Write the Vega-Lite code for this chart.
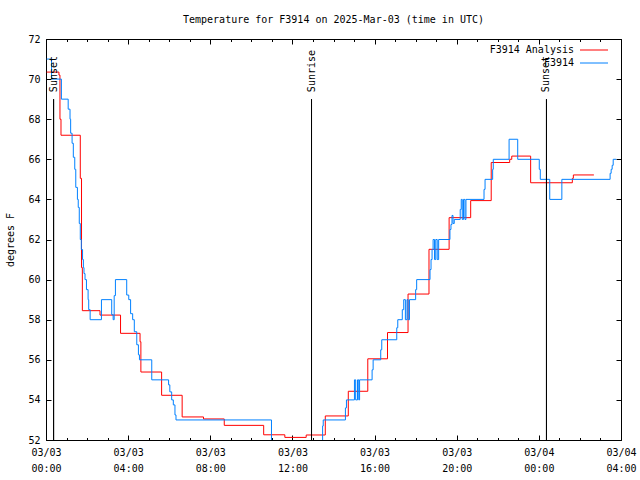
{
  "$schema": "https://vega.github.io/schema/vega-lite/v6.json",
  "width": 575,
  "height": 401,
  "autosize": {"type": "none"},
  "padding": {"left": 46, "top": 39, "right": 19, "bottom": 40},
  "background": "white",
  "title": {"text": "Temperature for F3914 on 2025-Mar-03 (time in UTC)", "font": "DejaVu Sans Mono", "fontSize": 10, "fontWeight": "normal", "color": "black", "anchor": "middle", "offset": 1, "baseline": "alphabetic"},
  "config": {
    "view": {"stroke": "black", "strokeWidth": 1},
    "font": "DejaVu Sans Mono",
    "axis": {"grid": false, "domain": false, "tickColor": "black", "tickWidth": 1, "labelColor": "black", "labelFont": "DejaVu Sans Mono", "labelFontSize": 10, "titleFont": "DejaVu Sans Mono", "titleFontSize": 10, "titleFontWeight": "normal", "titleColor": "black"}
  },
  "resolve": {"axis": {"x": "independent", "y": "independent"}},
  "layer": [
    {
      "data": {"values": [
        {"series": "F3914 Analysis", "hour": 0.03, "temp": 70.35},
        {"series": "F3914 Analysis", "hour": 0.63, "temp": 70.2},
        {"series": "F3914 Analysis", "hour": 0.68, "temp": 68.0},
        {"series": "F3914 Analysis", "hour": 0.73, "temp": 67.2},
        {"series": "F3914 Analysis", "hour": 1.67, "temp": 65.05},
        {"series": "F3914 Analysis", "hour": 1.73, "temp": 60.6},
        {"series": "F3914 Analysis", "hour": 1.77, "temp": 58.45},
        {"series": "F3914 Analysis", "hour": 2.63, "temp": 58.23},
        {"series": "F3914 Analysis", "hour": 3.63, "temp": 57.32},
        {"series": "F3914 Analysis", "hour": 4.58, "temp": 56.9},
        {"series": "F3914 Analysis", "hour": 4.62, "temp": 55.39},
        {"series": "F3914 Analysis", "hour": 5.63, "temp": 54.23},
        {"series": "F3914 Analysis", "hour": 6.63, "temp": 53.15},
        {"series": "F3914 Analysis", "hour": 7.67, "temp": 53.05},
        {"series": "F3914 Analysis", "hour": 8.68, "temp": 52.73},
        {"series": "F3914 Analysis", "hour": 10.6, "temp": 52.26},
        {"series": "F3914 Analysis", "hour": 11.63, "temp": 52.13},
        {"series": "F3914 Analysis", "hour": 12.67, "temp": 52.25},
        {"series": "F3914 Analysis", "hour": 13.6, "temp": 53.2},
        {"series": "F3914 Analysis", "hour": 14.72, "temp": 54.43},
        {"series": "F3914 Analysis", "hour": 15.67, "temp": 56.05},
        {"series": "F3914 Analysis", "hour": 16.63, "temp": 57.36},
        {"series": "F3914 Analysis", "hour": 17.63, "temp": 59.28},
        {"series": "F3914 Analysis", "hour": 18.65, "temp": 61.51},
        {"series": "F3914 Analysis", "hour": 19.63, "temp": 63.09},
        {"series": "F3914 Analysis", "hour": 20.68, "temp": 63.94},
        {"series": "F3914 Analysis", "hour": 21.68, "temp": 65.84},
        {"series": "F3914 Analysis", "hour": 22.58, "temp": 66.0},
        {"series": "F3914 Analysis", "hour": 22.68, "temp": 66.16},
        {"series": "F3914 Analysis", "hour": 23.6, "temp": 64.83},
        {"series": "F3914 Analysis", "hour": 25.63, "temp": 65.05},
        {"series": "F3914 Analysis", "hour": 25.68, "temp": 65.22},
        {"series": "F3914 Analysis", "hour": 26.68, "temp": 65.22},
        {"series": "F3914", "hour": 0.03, "temp": 71.0},
        {"series": "F3914", "hour": 0.27, "temp": 70.0},
        {"series": "F3914", "hour": 0.75, "temp": 69.0},
        {"series": "F3914", "hour": 1.08, "temp": 68.5},
        {"series": "F3914", "hour": 1.17, "temp": 68.0},
        {"series": "F3914", "hour": 1.2, "temp": 67.3},
        {"series": "F3914", "hour": 1.27, "temp": 66.8},
        {"series": "F3914", "hour": 1.33, "temp": 66.1},
        {"series": "F3914", "hour": 1.4, "temp": 65.5},
        {"series": "F3914", "hour": 1.45, "temp": 64.6},
        {"series": "F3914", "hour": 1.53, "temp": 64.0},
        {"series": "F3914", "hour": 1.57, "temp": 63.6},
        {"series": "F3914", "hour": 1.62, "temp": 62.8},
        {"series": "F3914", "hour": 1.67, "temp": 62.0},
        {"series": "F3914", "hour": 1.72, "temp": 61.5},
        {"series": "F3914", "hour": 1.78, "temp": 61.0},
        {"series": "F3914", "hour": 1.82, "temp": 60.6},
        {"series": "F3914", "hour": 1.85, "temp": 60.3},
        {"series": "F3914", "hour": 1.9, "temp": 60.0},
        {"series": "F3914", "hour": 1.97, "temp": 59.5},
        {"series": "F3914", "hour": 2.05, "temp": 59.0},
        {"series": "F3914", "hour": 2.08, "temp": 58.5},
        {"series": "F3914", "hour": 2.15, "temp": 58.0},
        {"series": "F3914", "hour": 2.7, "temp": 59.0},
        {"series": "F3914", "hour": 3.2, "temp": 58.25},
        {"series": "F3914", "hour": 3.27, "temp": 58.0},
        {"series": "F3914", "hour": 3.32, "temp": 59.2},
        {"series": "F3914", "hour": 3.38, "temp": 60.0},
        {"series": "F3914", "hour": 3.93, "temp": 59.23},
        {"series": "F3914", "hour": 4.03, "temp": 59.0},
        {"series": "F3914", "hour": 4.12, "temp": 58.3},
        {"series": "F3914", "hour": 4.22, "temp": 58.0},
        {"series": "F3914", "hour": 4.3, "temp": 57.4},
        {"series": "F3914", "hour": 4.42, "temp": 56.75},
        {"series": "F3914", "hour": 4.5, "temp": 56.25},
        {"series": "F3914", "hour": 4.55, "temp": 56.0},
        {"series": "F3914", "hour": 5.15, "temp": 55.0},
        {"series": "F3914", "hour": 5.97, "temp": 54.75},
        {"series": "F3914", "hour": 6.03, "temp": 54.4},
        {"series": "F3914", "hour": 6.12, "temp": 54.0},
        {"series": "F3914", "hour": 6.2, "temp": 53.75},
        {"series": "F3914", "hour": 6.28, "temp": 53.25},
        {"series": "F3914", "hour": 6.33, "temp": 53.0},
        {"series": "F3914", "hour": 10.98, "temp": 51.5},
        {"series": "F3914", "hour": 13.47, "temp": 52.7},
        {"series": "F3914", "hour": 13.5, "temp": 53.0},
        {"series": "F3914", "hour": 14.58, "temp": 53.6},
        {"series": "F3914", "hour": 14.63, "temp": 54.0},
        {"series": "F3914", "hour": 15.02, "temp": 55.0},
        {"series": "F3914", "hour": 15.08, "temp": 54.0},
        {"series": "F3914", "hour": 15.17, "temp": 55.0},
        {"series": "F3914", "hour": 15.23, "temp": 54.0},
        {"series": "F3914", "hour": 15.27, "temp": 55.0},
        {"series": "F3914", "hour": 15.88, "temp": 55.5},
        {"series": "F3914", "hour": 15.93, "temp": 56.0},
        {"series": "F3914", "hour": 16.3, "temp": 56.5},
        {"series": "F3914", "hour": 16.35, "temp": 57.0},
        {"series": "F3914", "hour": 17.08, "temp": 57.6},
        {"series": "F3914", "hour": 17.13, "temp": 58.0},
        {"series": "F3914", "hour": 17.35, "temp": 58.5},
        {"series": "F3914", "hour": 17.42, "temp": 59.0},
        {"series": "F3914", "hour": 17.5, "temp": 58.0},
        {"series": "F3914", "hour": 17.58, "temp": 59.0},
        {"series": "F3914", "hour": 17.63, "temp": 58.0},
        {"series": "F3914", "hour": 17.7, "temp": 59.0},
        {"series": "F3914", "hour": 18.0, "temp": 59.5},
        {"series": "F3914", "hour": 18.05, "temp": 60.0},
        {"series": "F3914", "hour": 18.7, "temp": 60.5},
        {"series": "F3914", "hour": 18.75, "temp": 61.0},
        {"series": "F3914", "hour": 18.8, "temp": 61.5},
        {"series": "F3914", "hour": 18.85, "temp": 62.0},
        {"series": "F3914", "hour": 18.92, "temp": 61.0},
        {"series": "F3914", "hour": 18.98, "temp": 62.0},
        {"series": "F3914", "hour": 19.05, "temp": 61.0},
        {"series": "F3914", "hour": 19.12, "temp": 62.0},
        {"series": "F3914", "hour": 19.67, "temp": 62.5},
        {"series": "F3914", "hour": 19.72, "temp": 62.75},
        {"series": "F3914", "hour": 19.77, "temp": 63.2},
        {"series": "F3914", "hour": 19.82, "temp": 62.8},
        {"series": "F3914", "hour": 19.88, "temp": 63.0},
        {"series": "F3914", "hour": 20.17, "temp": 63.5},
        {"series": "F3914", "hour": 20.22, "temp": 64.0},
        {"series": "F3914", "hour": 20.27, "temp": 63.0},
        {"series": "F3914", "hour": 20.33, "temp": 64.0},
        {"series": "F3914", "hour": 20.4, "temp": 63.0},
        {"series": "F3914", "hour": 20.45, "temp": 64.0},
        {"series": "F3914", "hour": 21.33, "temp": 64.5},
        {"series": "F3914", "hour": 21.38, "temp": 65.0},
        {"series": "F3914", "hour": 21.75, "temp": 65.5},
        {"series": "F3914", "hour": 21.78, "temp": 66.0},
        {"series": "F3914", "hour": 22.55, "temp": 67.0},
        {"series": "F3914", "hour": 22.97, "temp": 66.0},
        {"series": "F3914", "hour": 24.02, "temp": 65.5},
        {"series": "F3914", "hour": 24.07, "temp": 65.0},
        {"series": "F3914", "hour": 24.53, "temp": 64.0},
        {"series": "F3914", "hour": 25.12, "temp": 65.0},
        {"series": "F3914", "hour": 27.47, "temp": 65.3},
        {"series": "F3914", "hour": 27.52, "temp": 65.5},
        {"series": "F3914", "hour": 27.57, "temp": 65.7},
        {"series": "F3914", "hour": 27.62, "temp": 66.0},
        {"series": "F3914", "hour": 27.77, "temp": 66.0}
      ]},
      "mark": {"type": "line", "interpolate": "step-after", "clip": true, "strokeWidth": 1},
      "encoding": {
        "x": {"field": "hour", "type": "quantitative",
          "scale": {"domain": [0, 28], "nice": false, "zero": false},
          "axis": {"orient": "bottom", "title": null, "values": [0, 4, 8, 12, 16, 20, 24, 28], "tickSize": -5,
            "labelExpr": "datum.value < 24 ? '03/03' : '03/04'",
            "labelPadding": 12, "labelFlush": false, "labelOverlap": false, "labelAlign": "center", "labelBaseline": "top"}},
        "y": {"field": "temp", "type": "quantitative",
          "scale": {"domain": [52, 72], "nice": false, "zero": false},
          "axis": {"orient": "left", "values": [52, 54, 56, 58, 60, 62, 64, 66, 68, 70, 72], "tickSize": -5, "labelPadding": 11, "title": "degrees F", "titlePadding": 12}},
        "color": {"field": "series", "type": "nominal",
          "scale": {"domain": ["F3914 Analysis", "F3914"], "range": ["#ff0000", "#0080ff"]},
          "legend": {"title": null, "orient": "none", "legendX": 543, "legendY": 6, "symbolType": "M-7,0H7", "symbolSize": 16, "symbolStrokeWidth": 1, "symbolFillColor": "transparent", "labelAlign": "right", "labelOffset": -25, "labelFont": "DejaVu Sans Mono", "labelFontSize": 10, "labelColor": "black", "rowPadding": 3, "padding": 0}}
      }
    },
    {
      "data": {"values": [
        {"event": "Sunset", "hour": 0.37},
        {"event": "Sunrise", "hour": 12.93},
        {"event": "Sunset", "hour": 24.37}
      ]},
      "mark": {"type": "rule", "color": "black", "strokeWidth": 1},
      "encoding": {
        "x": {"field": "hour", "type": "quantitative",
          "axis": {"orient": "top", "title": null, "labels": false, "values": [0, 4, 8, 12, 16, 20, 24, 28], "tickSize": -5}},
        "y": {"datum": 69, "type": "quantitative",
          "axis": {"orient": "right", "title": null, "labels": false, "values": [52, 54, 56, 58, 60, 62, 64, 66, 68, 70, 72], "tickSize": -5}},
        "y2": {"datum": 52}
      }
    },
    {
      "data": {"values": [
        {"event": "Sunset", "hour": 0.37},
        {"event": "Sunrise", "hour": 12.93},
        {"event": "Sunset", "hour": 24.37}
      ]},
      "mark": {"type": "text", "angle": 270, "align": "left", "baseline": "middle", "font": "DejaVu Sans Mono", "fontSize": 10, "color": "black"},
      "encoding": {
        "x": {"field": "hour", "type": "quantitative",
          "axis": {"orient": "bottom", "title": null, "values": [0, 1, 2, 3, 4, 5, 6, 7, 8, 9, 10, 11, 12, 13, 14, 15, 16, 17, 18, 19, 20, 21, 22, 23, 24, 25, 26, 27, 28], "tickSize": -2.5,
            "labelExpr": "datum.value % 4 == 0 ? ((datum.value % 24) < 10 ? '0' : '') + (datum.value % 24) + ':00' : ''",
            "labelPadding": 26, "labelFlush": false, "labelOverlap": false, "labelAlign": "center", "labelBaseline": "top"}},
        "y": {"datum": 69.35, "type": "quantitative", "axis": null},
        "text": {"field": "event"}
      }
    },
    {
      "data": {"values": [
        {"event": "Sunset", "hour": 0.37},
        {"event": "Sunrise", "hour": 12.93},
        {"event": "Sunset", "hour": 24.37}
      ]},
      "mark": {"type": "rule", "color": "black", "strokeWidth": 1},
      "encoding": {
        "x": {"field": "hour", "type": "quantitative",
          "axis": {"orient": "top", "title": null, "labels": false, "values": [0, 1, 2, 3, 4, 5, 6, 7, 8, 9, 10, 11, 12, 13, 14, 15, 16, 17, 18, 19, 20, 21, 22, 23, 24, 25, 26, 27, 28], "tickSize": -2.5}},
        "y": {"datum": 69, "type": "quantitative", "axis": null},
        "y2": {"datum": 52}
      }
    }
  ]
}
